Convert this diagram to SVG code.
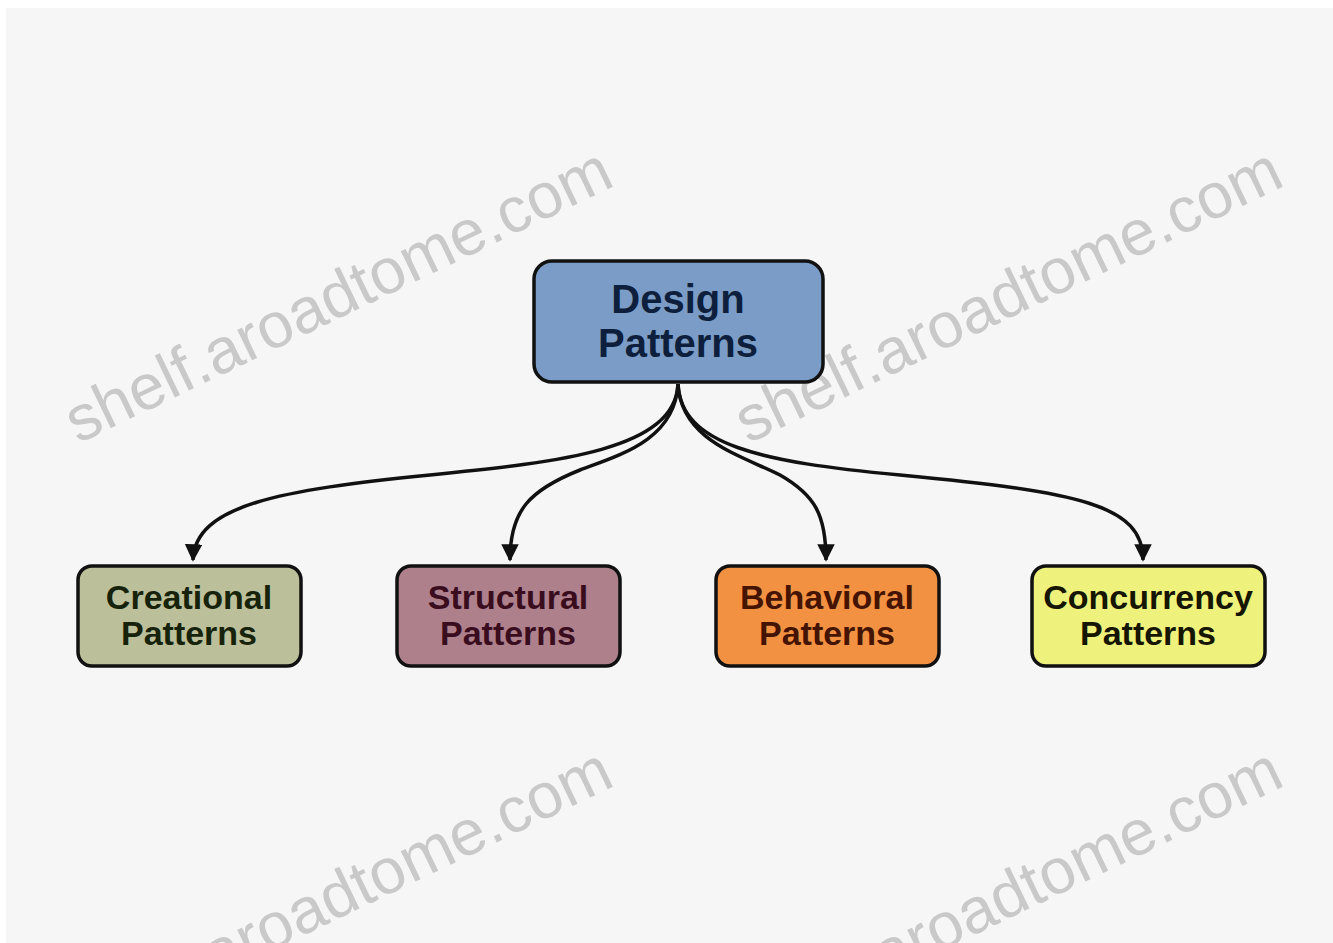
<svg xmlns="http://www.w3.org/2000/svg" width="1333" height="943" viewBox="0 0 1333 943">
<style>
.wm{font-family:"Liberation Sans",Arial,sans-serif;font-size:64px;fill:#c9c9c9;}
.box{stroke:#111;stroke-width:3.5;}
.lbl{font-family:"Liberation Sans",Arial,sans-serif;font-weight:bold;text-anchor:middle;}
.sub{font-size:34px;}
.top{font-size:40px;}
.conn{fill:none;stroke:#111;stroke-width:3.5;}
</style>
<defs>
<marker id="arr" viewBox="0 0 10 10" refX="9" refY="5" markerWidth="5" markerHeight="5" orient="auto" markerUnits="strokeWidth">
<path d="M0,0 L10,5 L0,10 z" fill="#111"/>
</marker>
</defs>
<rect x="0" y="0" width="1333" height="943" fill="#ffffff"/>
<rect x="6" y="8" width="1327" height="935" fill="#f6f6f6"/>
<g id="watermarks">
<text class="wm" transform="translate(78,444) rotate(-25.7)">shelf.aroadtome.com</text>
<text class="wm" transform="translate(748,444) rotate(-25.7)">shelf.aroadtome.com</text>
<text class="wm" transform="translate(78,1044) rotate(-25.7)">shelf.aroadtome.com</text>
<text class="wm" transform="translate(748,1044) rotate(-25.7)">shelf.aroadtome.com</text>
</g>
<g id="connectors">
<path class="conn" marker-end="url(#arr)" d="M678,384 C675,450 560,462 430,475 C280,490 195,505 193,560"/>
<path class="conn" marker-end="url(#arr)" d="M678,384 C675,440 620,455 580,470 C530,490 510,510 510,560"/>
<path class="conn" marker-end="url(#arr)" d="M678,384 C681,440 740,455 780,475 C815,495 826,515 826,560"/>
<path class="conn" marker-end="url(#arr)" d="M678,384 C681,445 760,462 900,475 C1080,492 1143,505 1143,560"/>
</g>
<g id="design-patterns">
<rect class="box" x="534" y="261" width="289" height="121" rx="18" fill="#7b9cc6"/>
<text class="lbl top" x="678" y="313" fill="#0d1f3c">Design</text>
<text class="lbl top" x="678" y="357" fill="#0d1f3c">Patterns</text>
</g>
<g id="creational">
<rect class="box" x="78" y="566" width="223" height="100" rx="14" fill="#bcc09a"/>
<text class="lbl sub" x="189" y="609" fill="#16230a">Creational</text>
<text class="lbl sub" x="189" y="645" fill="#16230a">Patterns</text>
</g>
<g id="structural">
<rect class="box" x="397" y="566" width="223" height="100" rx="14" fill="#ae808c"/>
<text class="lbl sub" x="508" y="609" fill="#3a0d1e">Structural</text>
<text class="lbl sub" x="508" y="645" fill="#3a0d1e">Patterns</text>
</g>
<g id="behavioral">
<rect class="box" x="716" y="566" width="223" height="100" rx="14" fill="#f39142"/>
<text class="lbl sub" x="827" y="609" fill="#451400">Behavioral</text>
<text class="lbl sub" x="827" y="645" fill="#451400">Patterns</text>
</g>
<g id="concurrency">
<rect class="box" x="1032" y="566" width="233" height="100" rx="14" fill="#eef27c"/>
<text class="lbl sub" x="1148" y="609" fill="#151500">Concurrency</text>
<text class="lbl sub" x="1148" y="645" fill="#151500">Patterns</text>
</g>
</svg>
